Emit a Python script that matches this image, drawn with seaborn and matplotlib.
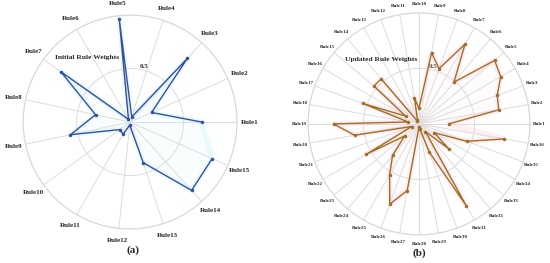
import numpy as np
import pandas as pd
import matplotlib
matplotlib.use("Agg")
import matplotlib.pyplot as plt
import seaborn as sns

# initial rule weights (15 rules)
rules_a = [f"Rule{i}" for i in range(1, 16)]
weights_a = [0.67, 0.22, 0.80, 0.05, 0.97, 0.03, 0.80, 0.33, 0.57, 0.12,
             0.13, 0.03, 0.40, 0.86, 0.84]

# updated rule weights (36 rules)
rules_b = [f"Rule{i}" for i in range(1, 37)]
weights_b = [0.27, 0.73, 0.75, 0.85, 0.89, 0.49, 0.83, 0.53, 0.65, 0.14,
             0.24, 0.04, 0.03, 0.53, 0.53, 0.14, 0.54, 0.10, 0.77, 0.59,
             0.07, 0.55, 0.17, 0.37, 0.53, 0.77, 0.61, 0.03, 0.05, 0.27,
             0.85, 0.09, 0.35, 0.16, 0.46, 0.78]

sns.set_theme(style="white")
plt.rcParams['font.family'] = ['Liberation Serif', 'DejaVu Serif']

fig = plt.figure(figsize=(5.5, 2.63), dpi=100)
ax_a = fig.add_axes([0.042, 0.129, 0.389, 0.814], projection='polar')
ax_b = fig.add_axes([0.56, 0.107, 0.4036, 0.844], projection='polar')


def radar(ax, rules, weights, color, glow, label_size, pad):
    n = len(rules)
    theta = np.arange(n) * 2 * np.pi / n
    df = pd.DataFrame({"theta": np.append(theta, theta[0]),
                       "weight": np.append(weights, weights[0])})
    # soft halo behind the line
    ax.fill(df["theta"], df["weight"], color=glow, alpha=0.08, lw=0)
    ax.plot(df["theta"], df["weight"], color=glow, lw=4, alpha=0.35,
            solid_joinstyle='round')
    sns.lineplot(data=df, x="theta", y="weight", sort=False, ax=ax,
                 color=color, lw=1.0, marker='o', markersize=2.5,
                 markeredgewidth=0)
    ax.set_ylim(0, 1.0)
    ax.set_yticks([0.5, 1.0])
    ax.set_yticklabels(["0.5", ""], fontsize=5, fontweight='bold')
    ax.set_rlabel_position(80)
    ax.set_xticks(theta)
    ax.set_xticklabels(rules, fontsize=label_size, fontweight='bold')
    ax.tick_params(axis='x', pad=pad)
    ax.grid(True, color='#dcdcdc', lw=0.7)
    ax.spines['polar'].set_color('#d8d8d8')
    ax.spines['polar'].set_linewidth(0.8)
    ax.set_xlabel("")
    ax.set_ylabel("")


radar(ax_a, rules_a, weights_a, '#34509f', '#c8f2fb', 5, -4)
radar(ax_b, rules_b, weights_b, '#a06e24', '#fad3dc', 3.6, -6.5)

fig.text(87 / 550, 1 - 57 / 263, "Initial Rule Weights", fontsize=5.4,
         fontweight='bold', ha='center', va='center')
fig.text(381 / 550, 1 - 60 / 263, "Updated Rule Weights", fontsize=5.4,
         fontweight='bold', ha='center', va='center')
fig.text(133 / 550, 1 - 250 / 263, "(a)", fontsize=8, fontweight='bold',
         ha='center', va='center')
fig.text(419 / 550, 1 - 253 / 263, "(b)", fontsize=8, fontweight='bold',
         ha='center', va='center')

fig.savefig("out.png", dpi=100)
